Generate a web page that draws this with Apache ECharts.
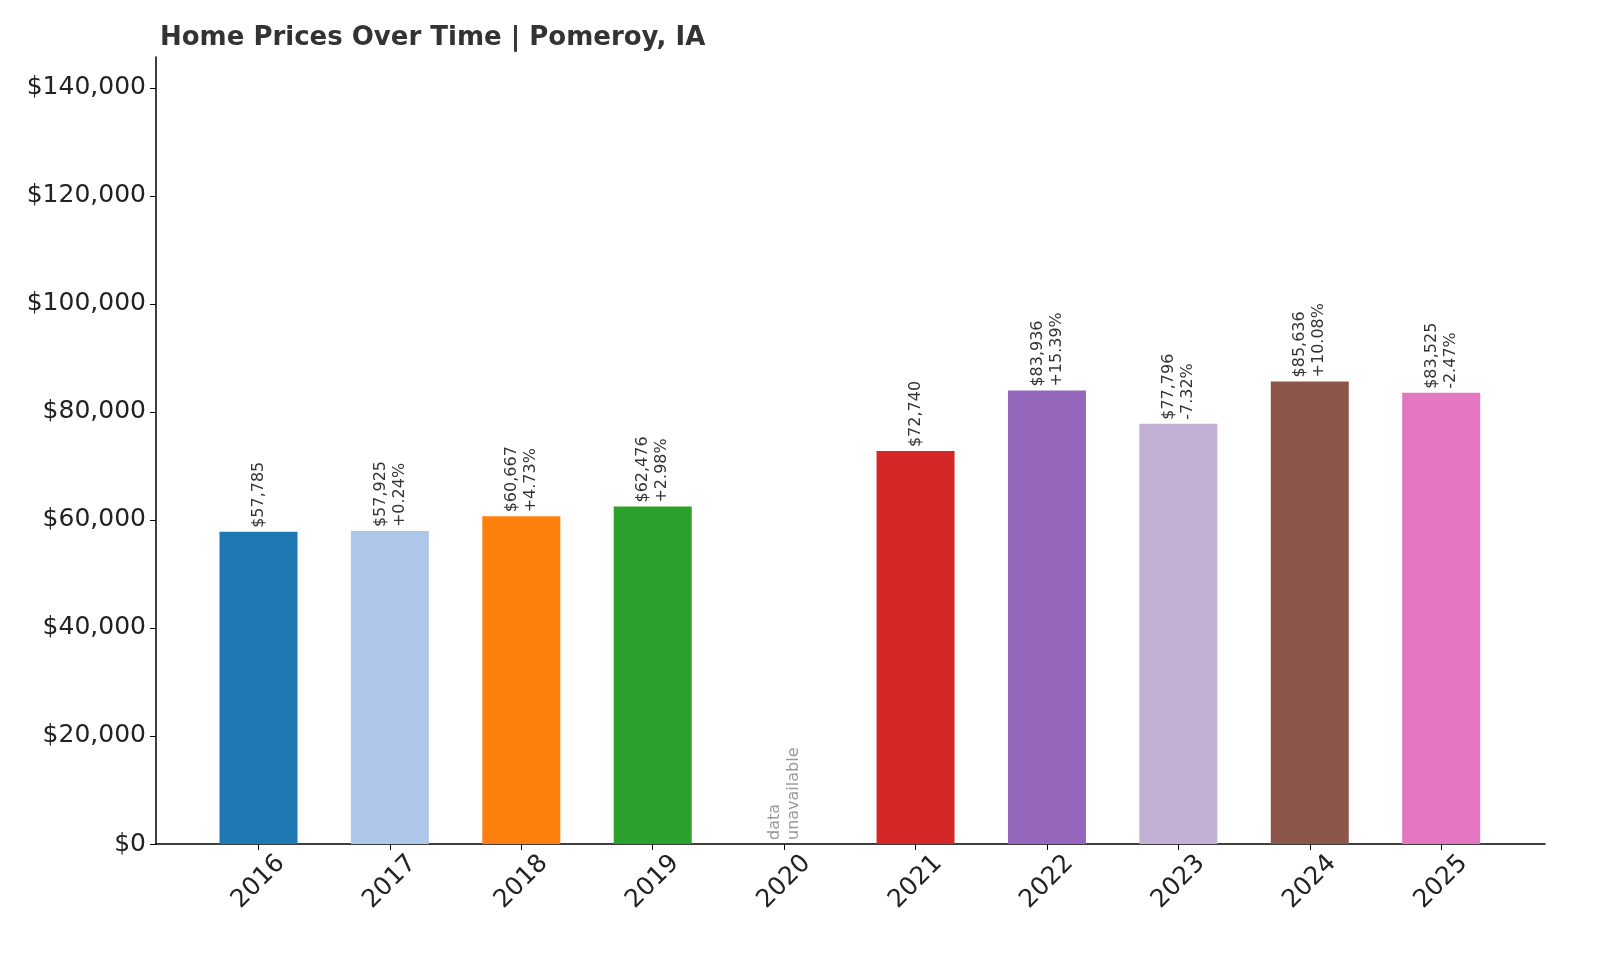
<!DOCTYPE html>
<html><head><meta charset="utf-8">
<script src="https://cdn.jsdelivr.net/npm/echarts@6/dist/echarts.min.js"></script>
<style>html,body{margin:0;background:#fff}#c{width:1600px;height:960px}</style>
</head><body><div id="c"></div>
<script>
const years = ['2016','2017','2018','2019','2020','2021','2022','2023','2024','2025'];
const prices = [57785,57925,60667,62476,null,72740,83936,77796,85636,83525];
const changes = ['','+0.24%','+4.73%','+2.98%','','','+15.39%','-7.32%','+10.08%','-2.47%'];
const colors = ['#1f77b4','#aec7e8','#ff7f0e','#2ca02c','#98df8a','#d62728','#9467bd','#c5b0d5','#8c564b','#e377c2'];
const yTicks = [0,20000,40000,60000,80000,100000,120000,140000];

const fmt = v => '$' + v.toLocaleString('en-US');
const data = years.map((y,i) => {
  if (prices[i] == null) {
    return {value:[i,0], itemStyle:{color:colors[i]},
      label:{formatter:'data\nunavailable', color:'#999'}};
  }
  return {value:[i,prices[i]], itemStyle:{color:colors[i]},
    label:{formatter: changes[i] ? fmt(prices[i])+'\n'+changes[i] : fmt(prices[i])}};
});
const chart = echarts.init(document.getElementById('c'));
chart.setOption({
  animation:false,
  title:{text:'Home Prices Over Time | Pomeroy, IA', left:155, top:20,
    textStyle:{fontFamily:'DejaVu Sans', fontWeight:'bold', fontSize:26, color:'#333'}},
  grid:{left:156, right:55, top:57, bottom:116, containLabel:false, outerBoundsMode:'none'},
  xAxis:{type:'value', min:-0.78, max:9.79,
    axisLine:{show:true, onZero:false, lineStyle:{color:'#000', width:1.5}},
    splitLine:{show:false},
    axisTick:{show:true, customValues:years.map((y,i)=>i), length:6, lineStyle:{color:'#000'}},
    axisLabel:{customValues:years.map((y,i)=>i), formatter:v=>years[Math.round(v)],
      rotate:45, align:'center', verticalAlign:'middle', fontSize:25, color:'#222',
      fontFamily:'DejaVu Sans', margin:38}},
  yAxis:{type:'value', min:0, max:145700,
    axisLine:{show:true, onZero:false, lineStyle:{color:'#000', width:1.5}},
    splitLine:{show:false},
    axisTick:{show:true, customValues:yTicks, length:6, lineStyle:{color:'#000'}},
    axisLabel:{customValues:yTicks, formatter:v=>fmt(v), fontSize:25, color:'#222',
      fontFamily:'DejaVu Sans', margin:10}},
  series:[{type:'bar', barWidth:78, data:data,
    label:{show:true, position:'top', rotate:90, align:'left', verticalAlign:'middle',
      distance:4, fontSize:16, lineHeight:19, color:'#333', fontFamily:'DejaVu Sans'}}]
});
</script></body></html>
